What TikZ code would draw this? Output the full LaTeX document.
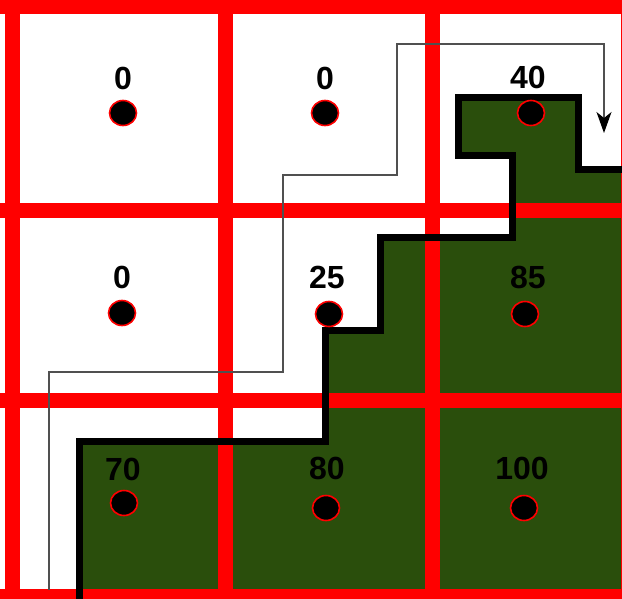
\documentclass[tikz,border=0pt]{standalone}
\usepackage{fontspec}
\setmainfont{Liberation Sans}
\usetikzlibrary{arrows.meta,shapes.geometric}
\definecolor{cellgreen}{RGB}{42,78,12}
\definecolor{gridred}{RGB}{255,0,0}
\definecolor{pathgray}{RGB}{80,80,80}
\tikzset{
  gridline/.style={draw=gridred,line width=15pt},
  outline/.style={draw=black,line width=7pt,line join=miter},
  sample/.style={ellipse,draw=gridred,fill=black,line width=1.6pt,minimum width=27pt,minimum height=25pt,inner sep=0pt},
  val/.style={inner sep=0pt,font=\bfseries\fontsize{32}{32}\selectfont},
  route/.style={draw=pathgray,line width=1.2pt,-{Stealth[length=21pt,width=15pt,inset=6pt,fill=black,color=black]}}
}
\begin{document}
\begin{tikzpicture}[x=1pt,y=-1pt]
\useasboundingbox (0,0) rectangle (622,598);
\begin{scope}
\clip (0,0) rectangle (622,598);
\fill[white] (0,0) rectangle (622,598);
% green region
\fill[cellgreen] (458,97) -- (578,97) -- (578,169) -- (640,169) -- (640,610) -- (79,610) -- (79,441) -- (325,441) -- (325,330) -- (380,330) -- (380,237) -- (512,237) -- (512,155) -- (458,155) -- cycle;
% red grid
\foreach \x in {12.5,225.5,432,628.5} \draw[gridline] (\x,-10) -- (\x,610);
\foreach \y in {6,210.5,400.5,596.5} \draw[gridline] (-10,\y) -- (640,\y);
% black outline
\draw[outline] (79,610) -- (79,441) -- (325,441) -- (325,330) -- (380,330) -- (380,237) -- (512,237) -- (512,155) -- (458,155) -- (458,97) -- (578,97) -- (578,169) -- (640,169);
\end{scope}
% samples
\node[sample] (d11) at (123,113) {};
\node[sample] (d12) at (325,113) {};
\node[sample] (d13) at (531,113) {};
\node[sample] (d21) at (122,313) {};
\node[sample] (d22) at (329,314) {};
\node[sample] (d23) at (525,314) {};
\node[sample] (d31) at (124,503) {};
\node[sample] (d32) at (326,508) {};
\node[sample] (d33) at (524,508) {};
% values
\node[val] (v11) at (123,78) {0};
\node[val] (v12) at (325,78) {0};
\node[val] (v13) at (528,77) {40};
\node[val] (v21) at (122,277) {0};
\node[val] (v22) at (327,277) {25};
\node[val] (v23) at (528,277) {85};
\node[val] (v31) at (123,469) {70};
\node[val] (v32) at (327,468) {80};
\node[val] (v33) at (522,468) {100};
% route
\coordinate (start) at (49,590);
\coordinate (finish) at (604,133);
\draw[route] (start) -- (49,372) -- (283,372) -- (283,175) -- (397,175) -- (397,44) -- (604,44) -- (finish);
\end{tikzpicture}
\end{document}
